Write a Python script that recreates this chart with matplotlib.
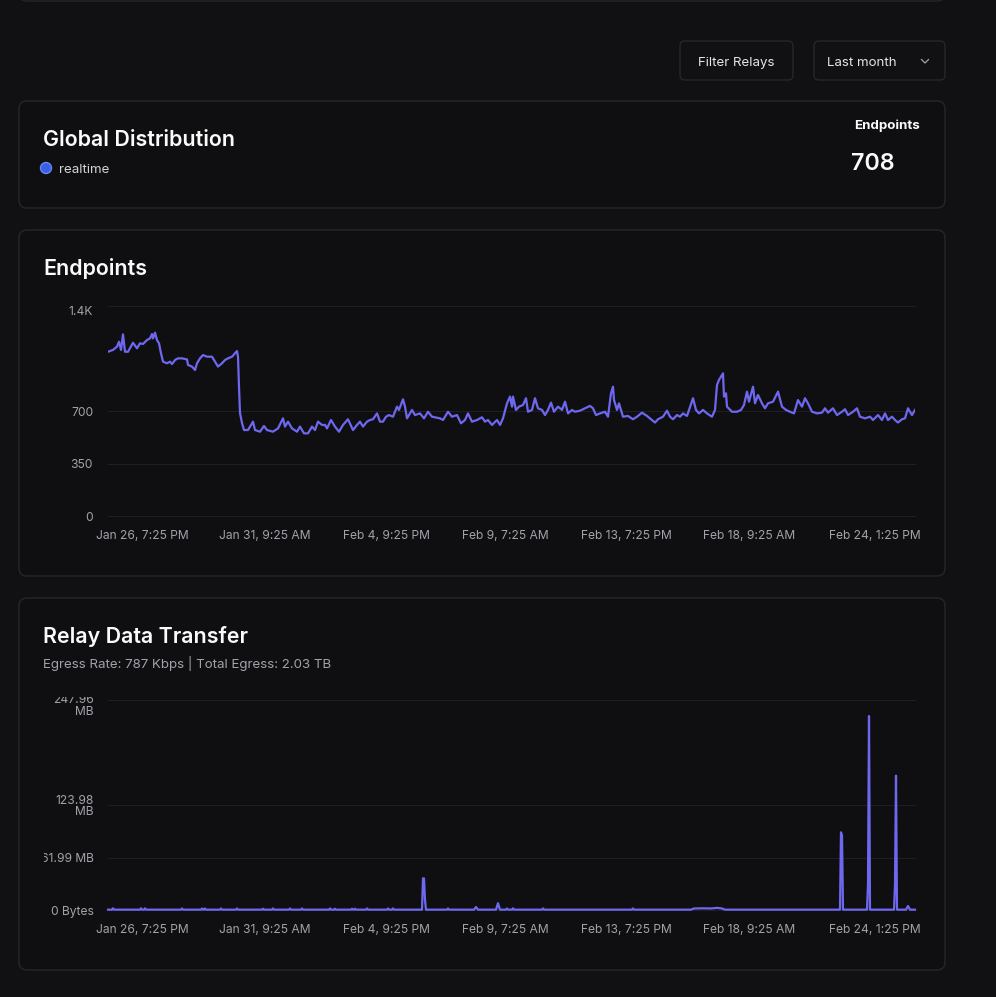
import matplotlib
matplotlib.use("Agg")
import matplotlib.pyplot as plt
from matplotlib.patches import FancyBboxPatch, Circle
from matplotlib.transforms import Bbox, TransformedBbox, offset_copy

# --- data -------------------------------------------------------------
n_samples = 807

tick_samples = [34, 157, 278, 397, 518, 641, 767]
tick_labels = ["Jan 26, 7:25 PM", "Jan 31, 9:25 AM", "Feb 4, 9:25 PM", "Feb 9, 7:25 AM",
               "Feb 13, 7:25 PM", "Feb 18, 9:25 AM", "Feb 24, 1:25 PM"]

# endpoints over time
ep_sample = [0, 5, 9, 11, 13, 15, 17, 20, 25, 29, 32, 35, 39, 42, 44, 45, 47, 49, 51, 53,
             55, 59, 62, 64, 67, 70, 74, 79, 80, 84, 87, 89, 92, 95, 99, 104, 107, 110, 114, 117,
             120, 124, 127, 129, 130, 131, 132, 134, 136, 140, 145, 147, 152, 156, 159, 165, 170, 175, 177, 180,
             184, 189, 192, 196, 200, 204, 207, 210, 214, 217, 219, 223, 227, 231, 235, 240, 245, 249, 252, 255,
             259, 262, 265, 269, 272, 275, 278, 281, 285, 289, 291, 295, 297, 299, 304, 307, 312, 316, 320, 324,
             327, 332, 335, 340, 344, 349, 353, 357, 360, 364, 369, 374, 377, 380, 384, 389, 392, 395, 399, 402,
             404, 405, 408, 411, 415, 418, 420, 424, 427, 430, 434, 437, 440, 443, 446, 450, 454, 457, 460, 464,
             467, 472, 477, 482, 485, 488, 492, 497, 500, 503, 505, 506, 509, 511, 515, 520, 525, 529, 534, 539,
             544, 547, 550, 555, 559, 562, 565, 569, 572, 575, 579, 581, 585, 588, 591, 595, 599, 604, 607, 609,
             611, 615, 616, 618, 619, 624, 629, 633, 636, 639, 641, 645, 647, 650, 654, 657, 660, 665, 670, 674,
             678, 682, 686, 690, 694, 697, 700, 704, 709, 714, 717, 720, 725, 729, 734, 737, 740, 745, 749, 752,
             757, 762, 765, 770, 774, 777, 780, 784, 787, 790, 794, 797, 800, 804, 807]
ep_value = [1095, 1107, 1129, 1162, 1107, 1211, 1095, 1095, 1155, 1118, 1151, 1147, 1173, 1184, 1213, 1184, 1222, 1173, 1151, 1085,
            1029, 1018, 1029, 1013, 1040, 1051, 1051, 1044, 1007, 996, 973, 1018, 1051, 1073, 1062, 1062, 1029, 996, 1018, 1040,
            1051, 1062, 1085, 1100, 1062, 862, 687, 620, 573, 573, 629, 573, 562, 600, 573, 562, 584, 651, 596, 629,
            584, 562, 596, 551, 551, 596, 573, 629, 607, 607, 584, 640, 596, 562, 607, 645, 573, 607, 629, 596,
            629, 640, 645, 684, 629, 629, 662, 673, 662, 729, 707, 778, 729, 651, 707, 673, 684, 651, 695, 662,
            658, 651, 640, 695, 662, 673, 618, 640, 684, 629, 640, 658, 629, 640, 607, 640, 607, 651, 751, 796,
            729, 796, 707, 729, 740, 785, 695, 707, 785, 718, 707, 673, 707, 756, 695, 729, 707, 762, 684, 707,
            695, 702, 718, 734, 718, 673, 684, 695, 662, 818, 862, 773, 707, 751, 662, 667, 645, 662, 689, 667,
            640, 623, 645, 662, 702, 662, 645, 673, 662, 684, 667, 707, 785, 707, 684, 707, 684, 662, 707, 873,
            907, 951, 796, 818, 729, 695, 695, 707, 740, 829, 762, 862, 751, 807, 751, 718, 751, 762, 829, 729,
            707, 695, 684, 773, 729, 785, 751, 695, 684, 689, 718, 689, 718, 673, 695, 712, 673, 695, 718, 662,
            651, 662, 640, 673, 640, 684, 640, 662, 640, 623, 645, 651, 718, 673, 707]

# relay egress (MB)
rl_sample = [0, 4, 5, 6, 32, 33, 34, 36, 37, 38, 73, 74, 75, 93, 94, 95, 96, 97, 98, 112,
             113, 114, 128, 129, 130, 154, 155, 156, 164, 165, 166, 181, 182, 183, 193, 194, 195, 221, 222, 223,
             226, 227, 228, 243, 244, 245, 246, 247, 248, 258, 259, 260, 279, 280, 281, 284, 285, 286, 314, 315,
             316, 317, 318, 339, 340, 341, 366, 368, 370, 388, 390, 392, 398, 399, 400, 404, 405, 406, 434, 435,
             436, 524, 525, 526, 583, 586, 595, 603, 609, 614, 617, 732, 733, 734, 735, 759, 760, 761, 762, 786,
             787, 788, 789, 798, 800, 802, 807]
rl_mb = [0.4, 0.4, 2.0, 0.4, 0.4, 2.0, 0.4, 0.4, 2.0, 0.4, 0.4, 1.8, 0.4, 0.4, 1.8, 0.4, 0.4, 1.8, 0.4, 0.4,
         1.8, 0.4, 0.4, 1.8, 0.4, 0.4, 1.5, 0.4, 0.4, 1.8, 0.4, 0.4, 1.8, 0.4, 0.4, 1.8, 0.4, 0.4, 1.8, 0.4,
         0.4, 1.5, 0.4, 0.4, 1.5, 0.4, 0.4, 1.5, 0.4, 0.4, 1.8, 0.4, 0.4, 1.8, 0.4, 0.4, 1.8, 0.4, 0.4, 37.4,
         37.4, 12.0, 0.4, 0.4, 1.8, 0.4, 0.4, 3.5, 0.4, 0.4, 8.0, 0.4, 0.4, 1.8, 0.4, 0.4, 2.0, 0.4, 0.4, 1.8,
         0.4, 0.4, 1.8, 0.4, 0.4, 1.8, 2.0, 1.8, 2.5, 1.8, 0.4, 0.4, 91.7, 88.0, 0.4, 0.4, 30.0, 229.0, 0.4, 0.4,
         30.0, 158.6, 0.4, 0.4, 4.7, 0.4, 0.4]

ep_ticks = [0, 350, 700, 1400]
ep_tick_labels = ["0", "350", "700", "1.4K"]
rl_ticks = [0, 61.99, 123.98, 247.96]
rl_tick_labels = ["0 Bytes", "61.99 MB", "123.98\nMB", "247.96\nMB"]

# --- style ------------------------------------------------------------
PAGE = '#111113'
CARD = '#0f0f11'
BORDER = '#27272a'
GRID = '#1f1f23'
MUTED = '#a1a1aa'
WHITE = '#fafafa'
LINE = '#6e67ef'
TICK_FS = 8.7

plt.rcParams['font.family'] = ['Inter', 'DejaVu Sans']

W, H = 996, 997
fig = plt.figure(figsize=(W / 100, H / 100), dpi=100, facecolor=PAGE)

# background layer in pixel coords (y down)
bg = fig.add_axes([0, 0, 1, 1], zorder=0)
bg.set_xlim(0, W)
bg.set_ylim(H, 0)
bg.axis('off')


def card(x, y, w, h):
    bg.add_patch(FancyBboxPatch((x, y), w, h, boxstyle='round,pad=0,rounding_size=8',
                                fc=CARD, ec=BORDER, lw=1))


def chart_axes(x, y, w, h):
    ax = fig.add_axes([x / W, 1 - (y + h) / H, w / W, h / H], zorder=1)
    ax.set_facecolor('none')
    for s in ax.spines.values():
        s.set_visible(False)
    ax.tick_params(length=0)
    ax.set_yticks([])
    ax.set_xlim(0, n_samples)
    ax.set_xticks(tick_samples, tick_labels, fontsize=TICK_FS, color=MUTED)
    ax.tick_params(axis='x', pad=10)
    return ax


# cards
card(19, -60, 926, 61)
card(19, 101, 926, 107)
card(19, 230, 926, 346)
card(19, 598, 926, 372)

# top controls
bg.add_patch(FancyBboxPatch((680, 41), 113, 39, boxstyle='round,pad=0,rounding_size=5',
                            fc=PAGE, ec=BORDER, lw=1))
bg.add_patch(FancyBboxPatch((814, 41), 131, 39, boxstyle='round,pad=0,rounding_size=5',
                            fc=PAGE, ec=BORDER, lw=1))
bg.text(736.5, 63, "Filter Relays", fontsize=9.6, color='#e4e4e7', ha='center', va='center')
bg.text(827, 63, "Last month", fontsize=9.6, color='#e4e4e7', ha='left', va='center')
bg.plot([921.5, 925, 928.5], [59.5, 63, 59.5], color=MUTED, lw=0.9)

# global distribution card
bg.text(43, 140, "Global Distribution", fontsize=15.4, weight='semibold', color=WHITE,
        ha='left', va='center')
bg.add_patch(Circle((46, 168), 5.5, fc='#3a5fe6', ec='#6b86f0', lw=1))
bg.text(59, 170, "realtime", fontsize=9.6, color='#d4d4d8', ha='left', va='center')
bg.text(920, 126, "Endpoints", fontsize=9.6, weight='bold', color=WHITE, ha='right', va='center')
bg.text(851, 164, "708", fontsize=16.8, weight='semibold', color=WHITE, ha='left', va='center')

# endpoints chart
bg.text(43, 268, "Endpoints", fontsize=15.4, weight='semibold', color=WHITE, ha='left', va='center')
ax1 = chart_axes(108, 306, 807, 210)
ax1.set_ylim(0, 1400)
for v, lab in zip(ep_ticks, ep_tick_labels):
    ax1.axhline(v, color=GRID, lw=0.8, clip_on=False, zorder=0)
    dy = -6 if v == ep_ticks[-1] else -1.5
    tr = offset_copy(ax1.get_yaxis_transform(), fig=fig, x=-15, y=dy, units='dots')
    ax1.text(0, v, lab, transform=tr, ha='right', va='center', fontsize=TICK_FS, color=MUTED)
ax1.plot(ep_sample, ep_value, color=LINE, lw=1.6, solid_joinstyle='round')

# relay data chart
bg.text(43, 636, "Relay Data Transfer", fontsize=15.4, weight='semibold', color=WHITE,
        ha='left', va='center')
bg.text(43, 663, "Egress Rate: 787 Kbps | Total Egress: 2.03 TB", fontsize=9.6, color=MUTED,
        ha='left', va='center')
ax2 = chart_axes(108, 700, 807, 210)
ax2.set_ylim(0, rl_ticks[-1])
clip = TransformedBbox(Bbox.from_extents(43.5 / W, 1 - 925 / H, 104 / W, 1 - 697 / H), fig.transFigure)
for v, lab in zip(rl_ticks, rl_tick_labels):
    ax2.axhline(v, color=GRID, lw=0.8, clip_on=False, zorder=0)
    dy = -6 if v == rl_ticks[-1] else -1.5
    tr = offset_copy(ax2.get_yaxis_transform(), fig=fig, x=-14.5, y=dy, units='dots')
    t = ax2.text(0, v, lab, transform=tr, ha='right', va='center', multialignment='right',
                 linespacing=0.95, fontsize=TICK_FS, color=MUTED, clip_on=True)
    t.set_clip_box(clip)
ax2.plot(rl_sample, rl_mb, color=LINE, lw=1.6, solid_joinstyle='round', clip_on=False)

fig.savefig("out.png", dpi=100, facecolor=PAGE)
